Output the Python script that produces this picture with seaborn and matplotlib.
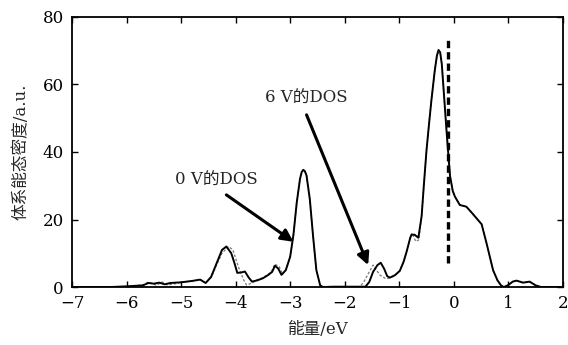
import matplotlib
matplotlib.use("Agg")
import matplotlib.pyplot as plt
import seaborn as sns
import pandas as pd

# ---- data ----
energy_0v = [-7.0, -6.3, -6.0, -5.7, -5.6, -5.5, -5.4, -5.3, -5.2, -5.0, -4.8, -4.65,
             -4.55, -4.45, -4.35, -4.25, -4.17, -4.08, -4.02, -3.97, -3.9, -3.83, -3.76,
             -3.7, -3.6, -3.5, -3.4, -3.33, -3.28, -3.22, -3.16, -3.08, -3.0, -2.94,
             -2.88, -2.82, -2.79, -2.76, -2.73, -2.70, -2.64, -2.58, -2.52, -2.45, -2.4,
             -2.2, -2.0, -1.8, -1.62, -1.55, -1.48, -1.4, -1.34, -1.28, -1.22, -1.17,
             -1.08, -0.99, -0.92, -0.865, -0.80, -0.775, -0.72, -0.65, -0.59, -0.55,
             -0.50, -0.45, -0.41, -0.35, -0.31, -0.28, -0.25, -0.22, -0.195, -0.13,
             -0.07, -0.02, 0.02, 0.11, 0.23, 0.33, 0.42, 0.51, 0.60, 0.66, 0.72, 0.80,
             0.87, 0.92, 1.0, 1.08, 1.15, 1.27, 1.39, 1.5, 1.6, 2.0]
dos_0v = [0, 0, 0.2, 0.5, 1.2, 1.0, 1.3, 0.8, 1.2, 1.4, 1.8, 2.2,
          1.2, 3.0, 7.0, 11.0, 12.0, 10.0, 7.0, 4.2, 4.3, 4.6, 2.8,
          1.6, 2.0, 2.6, 3.6, 4.5, 6.3, 5.5, 3.6, 5.0, 9.0, 15.5,
          25, 32, 34.0, 34.7, 34.3, 33, 26, 15, 5, 0.5, 0,
          0.1, 0.1, 0.1, 0.1, 1.5, 4.5, 6.5, 7.2, 5.5, 3.2, 2.8,
          3.5, 4.8, 7.5, 10.5, 14.5, 15.5, 15.5, 14.6, 21, 30,
          40.6, 49, 55.4, 64, 68.5, 70.2, 69.5, 66, 60.3, 45.5,
          33, 28.5, 26.8, 24.3, 23.8, 22.0, 20.3, 18.6, 13, 9, 5, 2,
          0.4, 0, 0.6, 1.6, 1.9, 1.3, 1.6, 0.5, 0, 0]

energy_6v = [-7.0, -6.3, -6.0, -5.7, -5.6, -5.45, -5.35, -5.25, -5.1, -5.0, -4.8, -4.65,
             -4.55, -4.45, -4.35, -4.25, -4.13, -4.05, -3.95, -3.85, -3.80, -3.7, -3.6,
             -3.5, -3.4, -3.33, -3.28, -3.2, -3.14, -3.08, -3.0, -2.94, -2.88, -2.82,
             -2.79, -2.76, -2.73, -2.70, -2.64, -2.58, -2.52, -2.45, -2.4, -2.2, -2.0,
             -1.8, -1.72, -1.65, -1.55, -1.48, -1.42, -1.35, -1.25, -1.17, -1.08, -0.99,
             -0.92, -0.865, -0.80, -0.76, -0.70, -0.64, -0.59, -0.55, -0.50, -0.45,
             -0.41, -0.35, -0.31, -0.28, -0.25, -0.22, -0.195, -0.13, -0.07, -0.02,
             0.02, 0.11, 0.23, 0.33, 0.42, 0.51, 0.60, 0.66, 0.72, 0.80, 0.87, 0.92,
             1.0, 1.08, 1.15, 1.27, 1.39, 1.5, 1.6, 2.0]
dos_6v = [0, 0, 0.2, 0.6, 1.5, 0.5, 1.5, 0.6, 1.0, 1.4, 1.8, 2.2,
          1.2, 2.8, 6.5, 10.0, 12.0, 11.0, 6.0, 2.0, 0.6, 1.2, 2.2,
          2.8, 3.8, 5.0, 6.8, 6.0, 3.8, 5.2, 9.0, 15.5, 25, 32,
          34.0, 34.7, 34.3, 33, 26, 15, 5, 0.5, 0, 0.1, 0.1,
          0.1, 0.1, 1.5, 4.5, 6.5, 5.0, 3.5, 2.5, 2.6, 3.5, 4.8,
          7.5, 10.5, 15.0, 16.0, 13.5, 14.0, 21, 30, 40.6, 49,
          55.4, 64, 68.5, 70.2, 69.5, 66, 60.3, 45.5, 33, 28.5,
          26.8, 24.3, 23.8, 22.0, 20.3, 18.6, 13, 9, 5, 2, 0.4, 0,
          0.6, 1.6, 1.9, 1.3, 1.6, 0.5, 0, 0]

fermi_level = -0.10
fermi_span = [7.0, 73.7]

x_ticks = [-7, -6, -5, -4, -3, -2, -1, 0, 1, 2]
y_ticks = [0, 20, 40, 60, 80]

label_0v = "0 V的DOS"
label_6v = "6 V的DOS"
label_0v_pos = (-4.36, 31.7)
label_0v_arrow = ((-4.17, 27.3), (-2.94, 13.4))
label_6v_pos = (-2.71, 56.0)
label_6v_arrow = ((-2.70, 51.0), (-1.57, 6.5))

xlabel = "能量/eV"
ylabel = "体系能态密度/a.u."

# ---- style ----
sns.set_style("ticks")
plt.rcParams["font.family"] = ["DejaVu Serif", "Noto Sans CJK SC"]
plt.rcParams["axes.unicode_minus"] = True

fig = plt.figure(figsize=(5.68, 3.45), dpi=100)
ax = fig.add_axes([0.1268, 0.168, 0.8642, 0.783])

df0 = pd.DataFrame({"E": energy_0v, "D": dos_0v})
df6 = pd.DataFrame({"E": energy_6v, "D": dos_6v})

sns.lineplot(data=df6, x="E", y="D", ax=ax, color="#777777", lw=0.9,
             linestyle=(0, (2, 1.5)), sort=True)
sns.lineplot(data=df0, x="E", y="D", ax=ax, color="black", lw=1.4, sort=True)

ax.plot([fermi_level, fermi_level], fermi_span, color="black", lw=2.4,
        linestyle=(0, (2.2, 1.2)))

arrow_kw = dict(arrowstyle="-|>", lw=2.2, color="black", mutation_scale=18,
                shrinkA=0, shrinkB=0)
ax.annotate("", xy=label_0v_arrow[1], xytext=label_0v_arrow[0], arrowprops=arrow_kw)
ax.annotate("", xy=label_6v_arrow[1], xytext=label_6v_arrow[0], arrowprops=arrow_kw)
ax.text(*label_0v_pos, label_0v, ha="center", va="center", fontsize=12)
ax.text(*label_6v_pos, label_6v, ha="center", va="center", fontsize=12)

ax.set_xlim(-7, 2)
ax.set_ylim(0, 80)
ax.set_xticks(x_ticks)
ax.set_yticks(y_ticks)
ax.tick_params(direction="in", top=True, right=True, length=4, width=1,
               labelsize=12, pad=6, colors="black")
for s in ax.spines.values():
    s.set_linewidth(1.3)
    s.set_color("black")
    s.set_visible(True)

ax.set_xlabel(xlabel, fontsize=12, labelpad=6)
ax.set_ylabel(ylabel, fontsize=12, labelpad=9)

fig.savefig("out.png", dpi=100)
